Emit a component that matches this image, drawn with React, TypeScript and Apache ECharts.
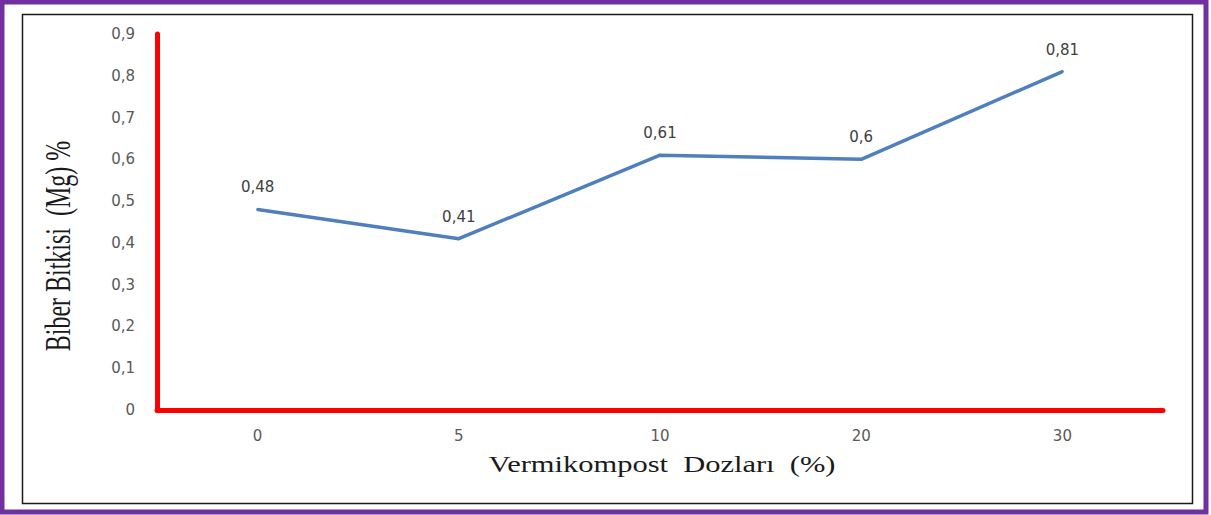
import React, { useEffect, useRef } from "react";
import * as echarts from "echarts";

const categories = ["0", "5", "10", "20", "30"];
const mgValues = [0.48, 0.41, 0.61, 0.6, 0.81];
const yTicks = { min: 0, max: 0.9, interval: 0.1 };
const xTitle = "Vermikompost  Dozları  (%)";
const yTitle = "Biber Bitkisi  (Mg) %";

const fmt = (v: number) => String(Math.round(v * 100) / 100).replace(".", ",");

export default function App() {
  const ref = useRef<HTMLDivElement>(null);
  useEffect(() => {
    const chart = echarts.init(ref.current!, undefined, { renderer: "svg" });
    const tickFont = "DejaVu Sans";
    chart.setOption({
      animation: false,
      backgroundColor: "#ffffff",
      grid: { left: 157, right: 48, top: 34, bottom: 105 },
      xAxis: {
        type: "category",
        data: categories,
        boundaryGap: true,
        axisLine: { show: true, lineStyle: { color: "#ff0000", width: 5 } },
        axisTick: { show: false },
        axisLabel: { color: "#595959", fontFamily: tickFont, fontSize: 15, margin: 18 },
        splitLine: { show: false },
      },
      yAxis: {
        type: "value",
        min: yTicks.min,
        max: yTicks.max,
        interval: yTicks.interval,
        axisLine: { show: true, lineStyle: { color: "#ff0000", width: 5 } },
        axisTick: { show: false },
        splitLine: { show: false },
        axisLabel: {
          color: "#595959",
          fontFamily: tickFont,
          fontSize: 15,
          margin: 22,
          formatter: (v: number) => fmt(v),
        },
      },
      series: [
        {
          type: "line",
          data: mgValues,
          symbol: "circle",
          symbolSize: 3,
          showSymbol: true,
          itemStyle: { color: "#4f7fbd" },
          lineStyle: { color: "#4f7fbd", width: 3.5 },
          label: {
            show: true,
            position: "top",
            distance: 13,
            color: "#404040",
            fontFamily: tickFont,
            fontSize: 15,
            formatter: (p: any) => fmt(p.value),
          },
        },
      ],
      graphic: [
        {
          type: "rect",
          shape: { x: 2, y: 2, width: 1204, height: 510 },
          style: { fill: "none", stroke: "#7030a0", lineWidth: 5 },
          silent: true,
        },
        {
          type: "rect",
          shape: { x: 22.5, y: 14.5, width: 1170, height: 489 },
          style: { fill: "none", stroke: "#1a1a1a", lineWidth: 1.5 },
          silent: true,
        },
        {
          type: "text",
          x: 662,
          y: 464,
          scaleX: 1.27,
          style: {
            text: xTitle,
            fontFamily: "Liberation Serif",
            fontSize: 24,
            fill: "#1a1a1a",
            textAlign: "center",
            textVerticalAlign: "middle",
          },
        },
        {
          type: "text",
          x: 58,
          y: 246,
          rotation: Math.PI / 2,
          scaleY: 1.45,
          style: {
            text: yTitle,
            fontFamily: "Liberation Serif",
            fontSize: 24,
            fill: "#1a1a1a",
            textAlign: "center",
            textVerticalAlign: "middle",
          },
        },
      ],
    });
    return () => chart.dispose();
  }, []);
  return (
    <div
      ref={ref}
      style={{ position: "fixed", left: 0, top: 0, width: 1211, height: 515 }}
    />
  );
}
